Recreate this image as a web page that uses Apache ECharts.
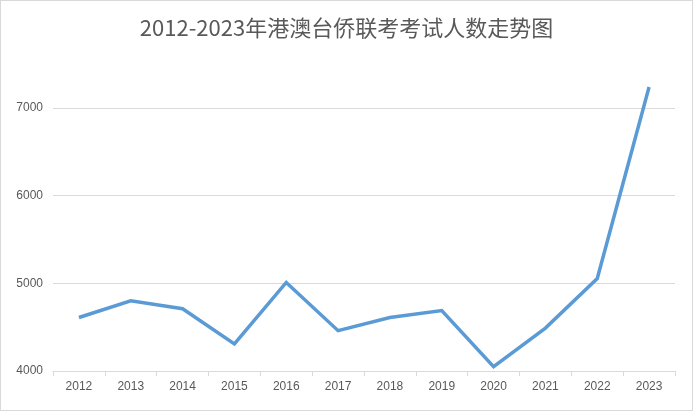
<!DOCTYPE html>
<html><head><meta charset="utf-8">
<script src="https://cdn.jsdelivr.net/npm/echarts@6/dist/echarts.min.js"></script>
<style>
html,body{margin:0;padding:0;background:#fff;}
#c{width:691px;height:409px;border:1px solid #d9d9d9;}
</style></head>
<body><div id="c"></div>
<script>
const years = ['2012','2013','2014','2015','2016','2017','2018','2019','2020','2021','2022','2023'];
const examinees = [4610,4800,4710,4310,5010,4460,4610,4690,4050,4490,5055,7240];
const titleText = '2012-2023年港澳台侨联考考试人数走势图';

const chart = echarts.init(document.getElementById('c'));
chart.setOption({
  animation:false,
  title:{text:titleText,left:'center',top:11,
    textStyle:{fontFamily:'"Noto Sans CJK SC", sans-serif',fontSize:22,fontWeight:'normal',color:'#595959'}},
  grid:{left:52,right:17,top:72,bottom:39},
  xAxis:{type:'category',data:years,boundaryGap:true,
    axisLine:{lineStyle:{color:'#d9d9d9'}},
    axisTick:{show:true,length:5,lineStyle:{color:'#d9d9d9'}},
    axisLabel:{color:'#595959',fontSize:12,margin:10,fontFamily:'"Liberation Sans", sans-serif'}},
  yAxis:{type:'value',min:4000,max:7400,interval:1000,
    axisLine:{show:false},axisTick:{show:false},
    axisLabel:{color:'#595959',fontSize:12,margin:10,showMaxLabel:false,
      formatter:function(v){return String(v);},fontFamily:'"Liberation Sans", sans-serif'},
    splitLine:{show:true,showMaxLine:false,lineStyle:{color:'#d9d9d9'}}},
  series:[{type:'line',data:examinees,showSymbol:false,symbol:'none',
    lineStyle:{color:'#5b9bd5',width:3.5,join:'miter'}}]
});
</script></body></html>
